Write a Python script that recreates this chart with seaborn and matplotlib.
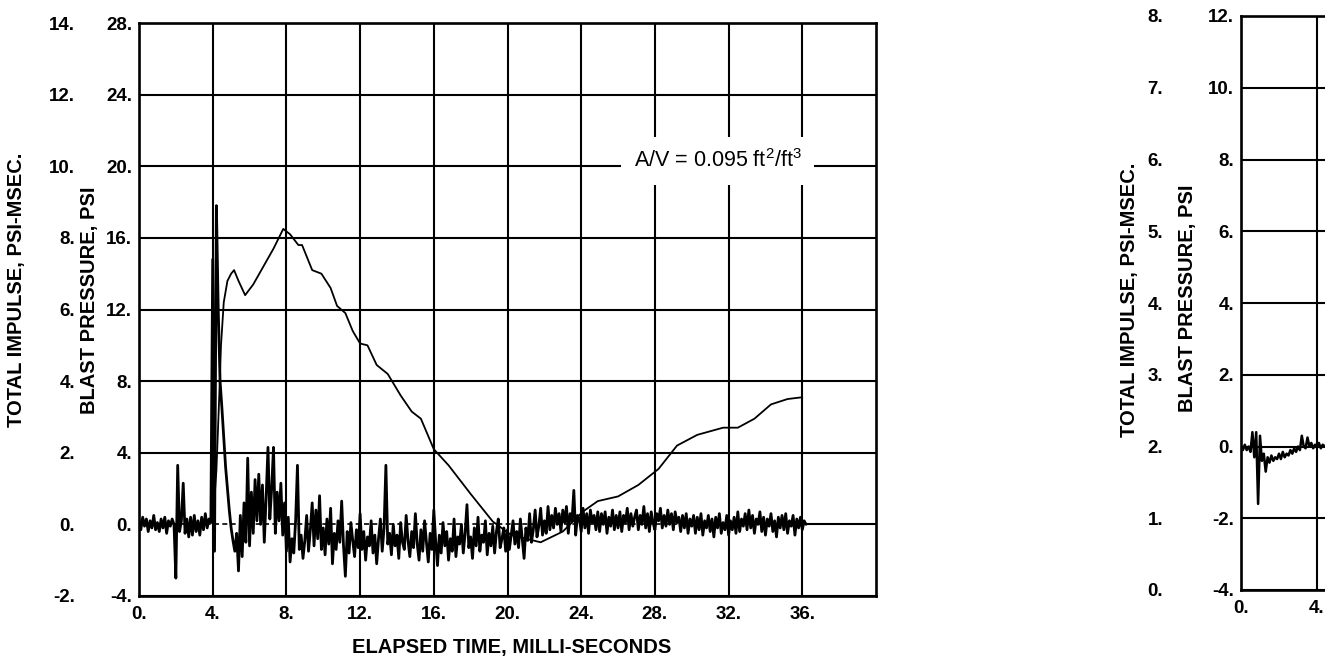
"""
Blast pressure and total impulse records, two panels (second one cut off at the right edge).
"""

import numpy as np
import pandas as pd
import matplotlib
matplotlib.use("Agg")
import matplotlib.pyplot as plt
import seaborn as sns

SAMPLE_MS = 0.1

# Left panel: blast pressure trace (PSI), one row per millisecond, 0.1 ms samples
LEFT_PRESSURE_ROWS = [
    [0.2, -0.3, 0.4, -0.1, 0.3, -0.4, 0.2, -0.2, 0.5, -0.3],
    [0.1, -0.4, 0.3, -0.2, 0.4, -0.5, 0.2, -0.1, 0.3, 0.0],
    [-3.0, 3.3, -0.4, 0.2, 2.3, -0.5, 0.3, -0.7, 0.4, -0.6],
    [0.5, -0.4, 0.2, -0.6, 0.4, -0.3, 0.6, -0.2, 0.3, 0.1],
    [14.8, -1.5, 17.8, 12.0, 8.0, 6.5, 4.8, 3.2, 2.0, 0.8],
    [-0.2, -0.9, -1.5, -0.5, -2.6, 0.5, -1.8, 1.2, -1.0, 3.7],
    [-1.2, 1.8, -0.5, 2.5, 0.2, 2.8, 0.0, 2.2, -1.0, 1.5],
    [4.3, 0.3, 2.0, 4.3, -0.5, 1.8, 0.2, 2.3, -0.6, 1.2],
    [-1.5, 0.4, -2.1, -0.8, -1.6, 0.2, 3.3, -1.4, -0.6, -1.9],
    [-0.9, 0.5, -1.5, -0.3, 1.2, -1.2, 0.8, -0.8, 1.6, -1.4],
    [-0.2, -1.7, 0.3, -1.1, 0.9, -2.2, -0.5, -1.4, 0.2, -1.0],
    [1.3, -1.2, -2.9, -0.4, -1.6, 0.1, -0.9, -1.8, -0.3, -1.3],
    [0.6, -1.4, -0.4, -2.0, -0.7, -1.2, 0.2, -1.6, -0.6, -2.2],
    [-0.8, 0.3, -1.5, -0.2, 3.3, -1.1, -0.5, -1.7, 0.0, -1.2],
    [-0.6, -1.9, 0.1, -1.0, -1.4, 0.5, -0.9, -1.8, -0.4, -1.3],
    [0.6, -1.1, -2.0, -0.3, -1.5, 0.2, -1.0, -2.1, -0.5, -1.4],
    [0.8, -0.9, -2.3, -0.6, -1.6, 0.1, -1.2, -0.4, -2.0, -0.8],
    [-1.5, 0.3, -1.8, -0.7, -1.1, 0.0, -1.6, -0.5, 1.1, -1.3],
    [-0.7, -1.9, -0.2, -1.2, 0.4, -1.5, -0.6, -1.0, 0.2, -1.7],
    [-0.5, -1.2, -0.1, -1.6, -0.4, 0.3, -1.3, -0.8, -0.2, -1.5],
    [-0.3, -1.4, -0.6, 0.2, -1.1, -0.4, -1.3, 0.3, -0.8, -1.9],
    [-0.2, -0.9, 0.6, -1.0, -0.3, 0.8, -0.7, -0.1, 0.9, -0.6],
    [0.2, -0.5, 1.0, -0.3, 0.5, -0.2, 0.9, 0.0, 0.6, -0.4],
    [0.8, 0.1, 1.0, -0.5, 0.6, 0.2, 1.9, -0.6, 0.5, 0.3],
    [-0.4, 0.9, -0.2, 0.6, -0.5, 0.8, 0.1, 0.5, -0.3, 0.7],
    [-0.4, 0.6, 0.0, 0.7, -0.5, 0.4, -0.1, 0.8, -0.3, 0.5],
    [-0.2, 0.7, -0.4, 0.5, 0.1, 0.9, -0.3, 0.6, -0.1, 0.4],
    [0.8, -0.3, 0.5, 0.0, 1.0, -0.2, 0.6, -0.4, 0.7, 0.1],
    [-0.3, 0.6, 0.2, 0.9, -0.2, 0.5, -0.1, 0.8, 0.0, 0.6],
    [-0.3, 0.7, 0.1, 0.4, -0.4, 0.5, -0.2, 0.6, -0.5, 0.3],
    [-0.1, 0.5, -0.5, 0.4, -0.3, 0.6, -0.6, 0.2, -0.2, 0.5],
    [-0.4, 0.3, -0.7, 0.4, -0.2, 0.6, -0.5, 0.1, -0.3, 0.5],
    [-0.6, 0.2, -0.3, 0.4, -0.5, 0.7, -0.4, 0.3, -0.1, 0.6],
    [-0.3, 0.8, -0.2, 0.5, -0.5, 0.3, 0.0, 0.7, -0.4, 0.4],
    [-0.6, 0.3, -0.1, 0.6, -0.4, 0.2, -0.7, 0.4, -0.2, 0.5],
    [-0.3, 0.6, -0.5, 0.2, -0.1, 0.5, -0.6, 0.3, -0.2, 0.4],
    [-0.3, 0.2, 0.0],
]

# Left panel: total impulse curve (PSI-MSEC) read at points along the trace
LEFT_IMPULSE_TIME = [4.0, 4.2, 4.35, 4.45, 4.6, 4.8, 5.0, 5.16, 5.4, 5.76, 6.2, 6.75,
                     7.3, 7.83, 8.2, 8.65, 8.85, 9.4, 9.9, 10.4, 10.75, 11.2, 11.6,
                     12.0, 12.4, 12.9, 13.5, 14.2, 14.8, 15.3, 16.0, 16.8, 18.0, 19.2,
                     20.2, 21.8, 23.0, 24.1, 24.9, 26.0, 27.1, 28.2, 29.2, 30.3, 31.7,
                     32.5, 33.4, 34.3, 35.2, 36.0]
LEFT_IMPULSE = [0.0, 1.5, 3.5, 5.0, 6.2, 6.8, 7.0, 7.1, 6.8, 6.4, 6.7, 7.2,
                7.7, 8.25, 8.1, 7.8, 7.8, 7.1, 7.0, 6.6, 6.1, 5.9, 5.4,
                5.05, 5.0, 4.45, 4.2, 3.6, 3.15, 2.95, 2.1, 1.65, 0.85, 0.08,
                -0.3, -0.5, -0.2, 0.36, 0.65, 0.78, 1.1, 1.55, 2.2, 2.5, 2.7,
                2.7, 2.95, 3.35, 3.5, 3.55]

# Right panel: blast pressure trace (PSI), 0.1 ms samples, only the start is visible
RIGHT_PRESSURE = [0.0, -0.1, 0.05, -0.1, 0.0, -0.15, 0.4, -0.3, 0.4, -1.6,
                  0.3, -0.4, -0.2, -0.7, -0.3, -0.45, -0.25, -0.4, -0.3, -0.35,
                  -0.2, -0.35, -0.15, -0.3, -0.2, -0.25, -0.1, -0.2, -0.05, -0.15,
                  0.0, -0.1, 0.3, 0.0, -0.05, 0.25, 0.0, 0.1, -0.05, 0.05,
                  0.0, 0.1, -0.05, 0.05, 0.0, 0.05]

LEFT_X_TICKS = [0, 4, 8, 12, 16, 20, 24, 28, 32, 36]
RIGHT_X_TICKS = [0, 4]
LEFT_P_TICKS = [-4, 0, 4, 8, 12, 16, 20, 24, 28]
LEFT_I_TICKS = [-2, 0, 2, 4, 6, 8, 10, 12, 14]
RIGHT_P_TICKS = [-4, -2, 0, 2, 4, 6, 8, 10, 12]
RIGHT_I_TICKS = [0, 1, 2, 3, 4, 5, 6, 7, 8]

ANNOTATION = r"A/V = 0.095 ft$\mathregular{^2}$/ft$\mathregular{^3}$"
X_LABEL = "ELAPSED TIME, MILLI-SECONDS"
IMPULSE_LABEL = "TOTAL IMPULSE, PSI-MSEC."
PRESSURE_LABEL = "BLAST PRESSURE, PSI"

sns.set_style("white")
plt.rcParams["font.family"] = ["Liberation Sans", "DejaVu Sans"]
plt.rcParams["mathtext.fontset"] = "custom"
plt.rcParams["mathtext.rm"] = "Liberation Sans"
for key in ["text.color", "axes.labelcolor", "xtick.color", "ytick.color"]:
    plt.rcParams[key] = "black"

FS = 13.5      # tick labels
LFS = 14.5     # axis titles
GRID_LW = 1.5


def tick_text(values):
    return [f"{v:g}." for v in values]


def style_panel(ax, x_ticks, p_ticks, i_ticks, p_lim, i_lim, outer_offset):
    """Grid, spines and the two stacked y scales on the left."""
    ax.set_xlim(0, 40)
    ax.set_ylim(*p_lim)
    ax.set_xticks(x_ticks)
    ax.set_xticklabels(tick_text(x_ticks), fontsize=FS, fontweight="bold")
    ax.set_yticks(p_ticks)
    ax.set_yticklabels(tick_text(p_ticks), fontsize=FS, fontweight="bold")
    ax.tick_params(length=0, pad=5)
    ax.tick_params(axis="x", pad=7)
    ax.grid(True, color="black", lw=GRID_LW)
    for s in ax.spines.values():
        s.set_visible(True)
        s.set_color("black")
        s.set_linewidth(1.9)
    ax.set_xlabel("")
    ax.set_ylabel("")

    ax_i = ax.twinx()
    ax_i.yaxis.tick_left()
    ax_i.spines["left"].set_position(("outward", outer_offset))
    ax_i.set_ylim(*i_lim)
    ax_i.set_yticks(i_ticks)
    ax_i.set_yticklabels(tick_text(i_ticks), fontsize=FS, fontweight="bold")
    for s in ax_i.spines.values():
        s.set_visible(False)
    ax_i.tick_params(length=0, pad=2)
    ax_i.grid(False)
    return ax_i


fig = plt.figure(figsize=(13.25, 6.6), dpi=100)

# ---- left panel ----
ax_l = fig.add_axes([139 / 1325, 64 / 660, 737 / 1325, 573 / 660])
left_p = np.concatenate([np.array(r, dtype=float) for r in LEFT_PRESSURE_ROWS])
left_df = pd.DataFrame({"time": np.arange(len(left_p)) * SAMPLE_MS, "pressure": left_p})
imp_df = pd.DataFrame({"time": LEFT_IMPULSE_TIME, "impulse": LEFT_IMPULSE})

sns.lineplot(data=left_df, x="time", y="pressure", ax=ax_l, color="black",
             lw=2.0, estimator=None, sort=False)
ax_li = style_panel(ax_l, LEFT_X_TICKS, LEFT_P_TICKS, LEFT_I_TICKS, (-4, 28), (-2, 14), 44)

# zero line: dashed under the trace, solid past the end of the record
ax_l.get_ygridlines()[1].set_visible(False)
trace_end = left_df["time"].max() / 40
ax_l.axhline(0, xmax=trace_end, color="black", lw=1.2, ls=(0, (3, 2)), zorder=0.5)
ax_l.axhline(0, xmin=trace_end, color="black", lw=GRID_LW, zorder=0.5)

sns.lineplot(data=imp_df, x="time", y="impulse", ax=ax_li, color="black",
             lw=1.3, estimator=None, sort=False)
ax_li.set_ylabel("")
ax_l.text(31.4, 20.3, ANNOTATION, fontsize=15.5, ha="center", va="center", zorder=5,
          bbox=dict(boxstyle="square,pad=0.6", facecolor="white", edgecolor="none"))

# ---- right panel (cut off by the page edge) ----
ax_r = fig.add_axes([1241 / 1325, 70 / 660, 760 / 1325, 574 / 660])
right_df = pd.DataFrame({"time": np.arange(len(RIGHT_PRESSURE)) * SAMPLE_MS,
                         "pressure": RIGHT_PRESSURE})
sns.lineplot(data=right_df, x="time", y="pressure", ax=ax_r, color="black",
             lw=1.8, estimator=None, sort=False)
style_panel(ax_r, RIGHT_X_TICKS, RIGHT_P_TICKS, RIGHT_I_TICKS, (-4, 12), (0, 8), 54)

# ---- axis titles ----
lbl = dict(fontsize=LFS, fontweight="bold", rotation=90, ha="center", va="center")
fig.text(17 / 1325, 1 - 290 / 660, IMPULSE_LABEL, **lbl)
fig.text(90 / 1325, 1 - 300 / 660, PRESSURE_LABEL, **lbl)
fig.text(1130 / 1325, 1 - 300 / 660, IMPULSE_LABEL, **lbl)
fig.text(1187 / 1325, 1 - 298 / 660, PRESSURE_LABEL, **lbl)
fig.text(512 / 1325, 1 - 648 / 660, X_LABEL, fontsize=LFS, fontweight="bold",
         ha="center", va="center")

fig.savefig("out.png", dpi=100, facecolor="white")
